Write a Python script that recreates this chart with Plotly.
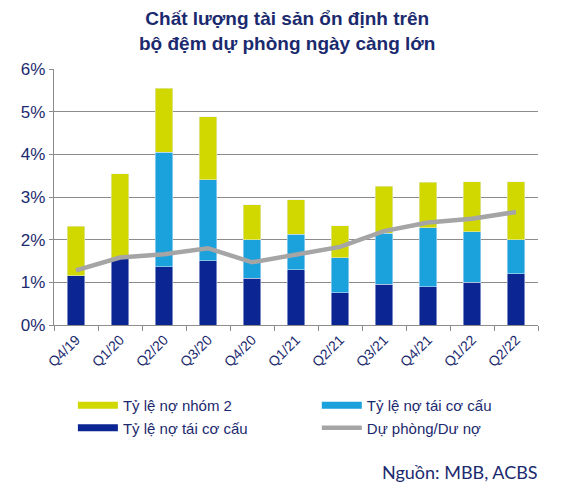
import plotly.graph_objects as go

categories = ["Q4/19", "Q1/20", "Q2/20", "Q3/20", "Q4/20", "Q1/21", "Q2/21", "Q3/21", "Q4/21", "Q1/22", "Q2/22"]
# stacked components (percent)
dark_restructured = [1.15, 1.55, 1.37, 1.51, 1.09, 1.30, 0.76, 0.95, 0.90, 1.00, 1.20]
light_restructured = [0.00, 0.00, 2.68, 1.89, 0.91, 0.83, 0.82, 1.20, 1.38, 1.19, 0.80]
group2 = [1.17, 2.00, 1.50, 1.48, 0.82, 0.80, 0.75, 1.10, 1.07, 1.17, 1.36]
provision = [1.28, 1.58, 1.66, 1.80, 1.47, 1.65, 1.83, 2.20, 2.40, 2.49, 2.65]

NAVY_TXT = "#1b2a6e"
C_YELLOW = "#d1d800"
C_LIGHT = "#1ba1db"
C_DARK = "#0b2592"
C_GRAY = "#a5a5a5"

fig = go.Figure()
fig.add_bar(x=categories, y=[v / 100 for v in dark_restructured], marker_color=C_DARK,
            showlegend=False, name="Tỷ lệ nợ tái cơ cấu")
fig.add_bar(x=categories, y=[v / 100 for v in light_restructured], marker_color=C_LIGHT,
            showlegend=False, name="Tỷ lệ nợ tái cơ cấu ")
fig.add_bar(x=categories, y=[v / 100 for v in group2], marker_color=C_YELLOW,
            showlegend=False, name="Tỷ lệ nợ nhóm 2")
fig.add_scatter(x=categories, y=[v / 100 for v in provision], mode="lines",
                line=dict(color=C_GRAY, width=4.5), showlegend=False, name="Dự phòng/Dư nợ")

# legend entries: left column (legend) and right column (legend2)
legend_items = [("Tỷ lệ nợ nhóm 2", C_YELLOW, "legend", 7),
                ("Tỷ lệ nợ tái cơ cấu", C_DARK, "legend", 7),
                ("Tỷ lệ nợ tái cơ cấu", C_LIGHT, "legend2", 7),
                ("Dự phòng/Dư nợ", C_GRAY, "legend2", 4.5)]
for nm, col, lg, w in legend_items:
    fig.add_scatter(x=[None], y=[None], mode="lines", name=nm, legend=lg,
                    line=dict(color=col, width=w), showlegend=True)

leg_common = dict(orientation="v", yanchor="top", traceorder="normal", itemwidth=40,
                  font=dict(size=15, color=NAVY_TXT), tracegroupgap=0,
                  bgcolor="rgba(0,0,0,0)")

fig.update_layout(
    width=554, height=493,
    margin=dict(l=46, r=24, t=61, b=176),
    barmode="stack", bargap=0.6,
    plot_bgcolor="white", paper_bgcolor="white",
    font=dict(family="Liberation Sans, Arial, sans-serif", color=NAVY_TXT),
    xaxis=dict(showline=True, linecolor="#8c8c8c", linewidth=1.3, ticks="outside",
               tickson="boundaries", ticklen=5, tickcolor="#8c8c8c", tickangle=-45,
               tickfont=dict(size=14, color=NAVY_TXT), showgrid=False),
    yaxis=dict(range=[0, 0.06], dtick=0.01, tickformat=".0%", showline=True,
               linecolor="#8c8c8c", linewidth=1.3, ticks="outside", ticklen=4,
               tickcolor="#8c8c8c", gridcolor="#8c8c8c", gridwidth=1,
               tickfont=dict(size=17, color=NAVY_TXT), zeroline=False),
    legend=dict(x=0.039, xanchor="left", y=-0.25, **leg_common),
    legend2=dict(x=0.543, xanchor="left", y=-0.25, **leg_common),
    annotations=[
        dict(text="<b>Chất lượng tài sản ổn định trên<br>bộ đệm dự phòng ngày càng lớn</b>",
             xref="paper", yref="paper", x=0.482, y=1.148, xanchor="center", yanchor="middle",
             showarrow=False, font=dict(size=19, color=NAVY_TXT)),
        dict(text="Nguồn: MBB, ACBS", xref="paper", yref="paper",
             x=1.005, y=-0.523, xanchor="right", yanchor="top", showarrow=False,
             font=dict(size=18, color=NAVY_TXT, family="Lato, sans-serif"))],
)

fig.write_html("out.html")
